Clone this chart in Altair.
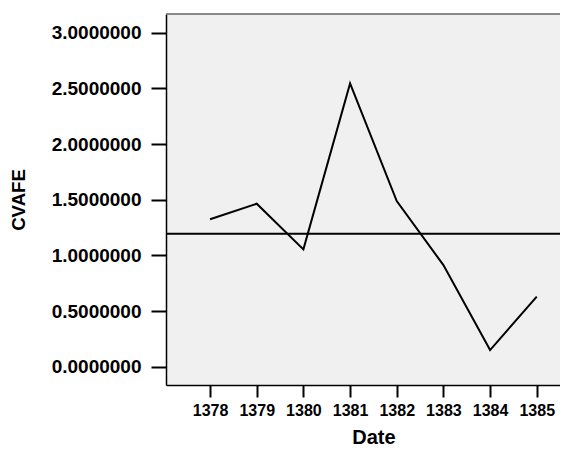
import altair as alt
import pandas as pd

dates = [1378, 1379, 1380, 1381, 1382, 1383, 1384, 1385]
cvafe = [1.324, 1.464, 1.054, 2.545, 1.488, 0.913, 0.150, 0.629]
mean_value = [1.195]
y_ticks = [0.0, 0.5, 1.0, 1.5, 2.0, 2.5, 3.0]

df = pd.DataFrame({"Date": dates, "CVAFE": cvafe})
mean_df = pd.DataFrame({"m": mean_value})

x_scale = alt.Scale(domain=[1377.056, 1385.498], nice=False, zero=False)
y_scale = alt.Scale(domain=[-0.164, 3.168], nice=False, zero=False)

FONT = "Liberation Sans"

line = alt.Chart(df).mark_line(color="black", strokeWidth=2).encode(
    x=alt.X(
        "Date:Q",
        scale=x_scale,
        axis=alt.Axis(
            values=dates, format="d", title="Date",
            labelFontSize=16, labelFont=FONT, labelFontWeight="bold", labelColor="black",
            tickSize=12, labelPadding=5, labelFlush=False, labelOverlap=False,
            titleFontSize=20, titleFont=FONT, titleFontWeight="bold", titleColor="black",
            titleX=207.4, titleY=58, titleAlign="center", titleBaseline="alphabetic",
        ),
    ),
    y=alt.Y(
        "CVAFE:Q",
        scale=y_scale,
        axis=alt.Axis(
            values=y_ticks, format=".7f", title="CVAFE",
            labelFontSize=19, labelFont=FONT, labelFontWeight="bold", labelColor="black",
            tickSize=15, labelPadding=10, labelFlush=False, labelOverlap=False,
            labelBaseline="middle",
            titleFontSize=18.6, titleFont=FONT, titleFontWeight="bold", titleColor="black",
            titleX=-148, titleY=185.5, titleAngle=270, titleAlign="center", titleBaseline="middle",
        ),
    ),
)

mean_rule = alt.Chart(mean_df).mark_rule(color="black", strokeWidth=2).encode(
    y=alt.Y("m:Q", scale=y_scale)
)

top_border = alt.Chart(mean_df).mark_rule(color="#666666", strokeWidth=1.5).encode(
    y=alt.value(0), x=alt.value(0), x2=alt.value(394)
)

chart = (
    alt.layer(mean_rule, line, top_border)
    .properties(
        width=394,
        height=371,
        padding={"left": 158, "top": 6, "right": 0, "bottom": 64},
        autosize="none",
    )
    .configure_view(stroke=None, fill="#f0f0f0")
    .configure_axis(
        grid=False, domainColor="black", domainWidth=1.5,
        tickColor="black", tickWidth=2,
    )
)

chart.save("out.html", embed_options={"renderer": "svg", "actions": False})
